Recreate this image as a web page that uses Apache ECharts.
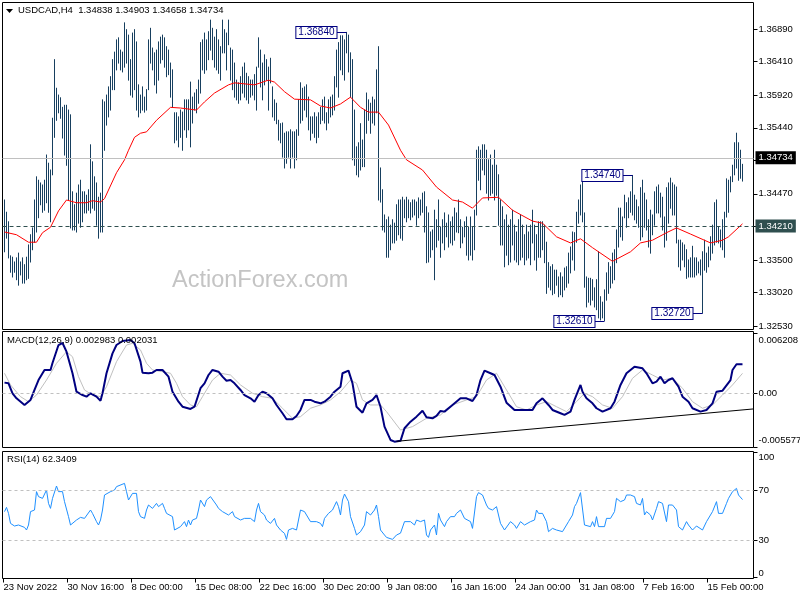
<!DOCTYPE html>
<html><head><meta charset="utf-8">
<script src="https://cdn.jsdelivr.net/npm/echarts@6/dist/echarts.min.js"></script>
<style>html,body{margin:0;padding:0;background:#fff}#c{width:800px;height:600px}</style>
</head><body><div id="c"></div>
<script>
// ---- DATA ----
const highs = [
1.3438,1.3420,1.3406,1.3356,1.3354,1.3347,1.3353,1.3360,1.3347,1.3353,
1.3343,1.3354,1.3372,1.3387,1.3397,1.3438,1.3472,1.3467,1.3463,1.3460,
1.3467,1.3504,1.3492,1.3482,1.3558,1.3644,1.3602,1.3592,1.3588,1.3574,
1.3577,1.3577,1.3570,1.3563,1.3450,1.3431,1.3448,1.3460,1.3467,1.3450,
1.3450,1.3445,1.3453,1.3519,1.3494,1.3472,1.3463,1.3442,1.3448,1.3585,
1.3582,1.3592,1.3604,1.3619,1.3644,1.3655,1.3673,1.3676,1.3658,1.3655,
1.3698,1.3688,1.3680,1.3644,1.3683,1.3688,1.3670,1.3607,1.3592,1.3604,
1.3589,1.3600,1.3673,1.3690,1.3661,1.3654,1.3658,1.3670,1.3677,1.3680,
1.3676,1.3663,1.3658,1.3639,1.3629,1.3566,1.3566,1.3560,1.3570,1.3567,
1.3585,1.3585,1.3585,1.3611,1.3589,1.3595,1.3600,1.3614,1.3669,1.3673,
1.3683,1.3673,1.3685,1.3702,1.3690,1.3677,1.3688,1.3673,1.3663,1.3702,
1.3688,1.3683,1.3702,1.3661,1.3658,1.3639,1.3614,1.3610,1.3619,1.3633,
1.3639,1.3624,1.3619,1.3614,1.3614,1.3622,1.3633,1.3676,1.3658,1.3639,
1.3651,1.3644,1.3633,1.3646,1.3604,1.3585,1.3580,1.3555,1.3550,1.3551,
1.3536,1.3538,1.3538,1.3541,1.3538,1.3538,1.3541,1.3585,1.3610,1.3602,
1.3604,1.3607,1.3589,1.3560,1.3560,1.3566,1.3560,1.3566,1.3574,1.3585,
1.3589,1.3566,1.3585,1.3589,1.3592,1.3619,1.3658,1.3669,1.3679,1.3679,
1.3673,1.3684,1.3680,1.3654,1.3644,1.3570,1.3516,1.3522,1.3550,1.3526,
1.3570,1.3595,1.3585,1.3580,1.3589,1.3585,1.3629,1.3663,1.3485,1.3453,
1.3416,1.3409,1.3413,1.3401,1.3409,1.3404,1.3431,1.3438,1.3438,1.3442,
1.3438,1.3442,1.3438,1.3434,1.3438,1.3438,1.3435,1.3441,1.3438,1.3448,
1.3450,1.3428,1.3419,1.3391,1.3394,1.3423,1.3409,1.3438,1.3398,1.3409,
1.3419,1.3404,1.3416,1.3406,1.3413,1.3426,1.3419,1.3438,1.3409,1.3398,
1.3406,1.3413,1.3398,1.3413,1.3398,1.3423,1.3511,1.3516,1.3511,1.3519,
1.3519,1.3511,1.3497,1.3504,1.3489,1.3511,1.3489,1.3475,1.3438,1.3428,
1.3409,1.3416,1.3401,1.3409,1.3423,1.3401,1.3391,1.3409,1.3416,1.3401,
1.3387,1.3401,1.3391,1.3401,1.3423,1.3401,1.3387,1.3406,1.3406,1.3406,
1.3401,1.3376,1.3346,1.3340,1.3343,1.3335,1.3335,1.3325,1.3331,1.3325,
1.3338,1.3340,1.3360,1.3369,1.3391,1.3390,1.3420,1.3438,1.3460,1.3470,
1.3419,1.3325,1.3323,1.3323,1.3321,1.3309,1.3321,1.3362,1.3296,1.3288,
1.3306,1.3331,1.3346,1.3340,1.3360,1.3365,1.3394,1.3426,1.3426,1.3413,
1.3445,1.3434,1.3441,1.3450,1.3474,1.3445,1.3438,1.3428,1.3456,1.3467,
1.3448,1.3438,1.3409,1.3423,1.3416,1.3450,1.3457,1.3460,1.3448,1.3442,
1.3413,1.3456,1.3463,1.3470,1.3463,1.3460,1.3457,1.3379,1.3379,1.3375,
1.3372,1.3365,1.3350,1.3353,1.3370,1.3353,1.3353,1.3347,1.3350,1.3362,
1.3379,1.3360,1.3369,1.3384,1.3401,1.3434,1.3438,1.3398,1.3394,1.3409,
1.3420,1.3469,1.3467,1.3472,1.3489,1.3522,1.3536,1.3522,1.3511,1.34903
];
const lows = [
1.3362,1.3382,1.3353,1.3332,1.3325,1.3332,1.3321,1.3313,1.3328,1.3316,
1.3316,1.3321,1.3323,1.3347,1.3365,1.3376,1.3391,1.3412,1.3431,1.3420,
1.3423,1.3434,1.3420,1.3406,1.3475,1.3530,1.3555,1.3566,1.3558,1.3529,
1.3504,1.3489,1.3438,1.3397,1.3394,1.3394,1.3391,1.3404,1.3398,1.3406,
1.3419,1.3419,1.3423,1.3419,1.3426,1.3423,1.3401,1.3382,1.3391,1.3391,
1.3511,1.3548,1.3560,1.3570,1.3600,1.3600,1.3629,1.3639,1.3629,1.3626,
1.3633,1.3639,1.3614,1.3592,1.3589,1.3600,1.3570,1.3560,1.3566,1.3570,
1.3567,1.3570,1.3600,1.3639,1.3629,1.3607,1.3595,1.3614,1.3639,1.3644,
1.3633,1.3619,1.3622,1.3589,1.3574,1.3522,1.3526,1.3516,1.3530,1.3511,
1.3541,1.3530,1.3541,1.3516,1.3551,1.3570,1.3566,1.3580,1.3595,1.3629,
1.3624,1.3629,1.3644,1.3658,1.3644,1.3633,1.3629,1.3624,1.3614,1.3654,
1.3654,1.3629,1.3666,1.3614,1.3600,1.3589,1.3585,1.3580,1.3585,1.3595,
1.3589,1.3585,1.3580,1.3589,1.3592,1.3585,1.3570,1.3633,1.3604,1.3585,
1.3607,1.3614,1.3570,1.3610,1.3560,1.3555,1.3550,1.3526,1.3522,1.3501,
1.3485,1.3492,1.3501,1.3485,1.3501,1.3485,1.3497,1.3533,1.3551,1.3555,
1.3570,1.3560,1.3541,1.3526,1.3536,1.3530,1.3522,1.3530,1.3550,1.3555,
1.3551,1.3541,1.3551,1.3560,1.3563,1.3570,1.3604,1.3589,1.3629,1.3622,
1.3614,1.3654,1.3626,1.3589,1.3497,1.3489,1.3475,1.3472,1.3482,1.3487,
1.3487,1.3536,1.3555,1.3536,1.3551,1.3548,1.3566,1.3438,1.3435,1.3394,
1.3391,1.3354,1.3354,1.3365,1.3375,1.3375,1.3379,1.3387,1.3382,1.3379,
1.3412,1.3406,1.3412,1.3409,1.3413,1.3416,1.3401,1.3412,1.3416,1.3420,
1.3391,1.3346,1.3347,1.3354,1.3365,1.3321,1.3369,1.3379,1.3354,1.3375,
1.3365,1.3384,1.3369,1.3375,1.3372,1.3379,1.3391,1.3390,1.3368,1.3375,
1.3384,1.3357,1.3350,1.3357,1.3350,1.3365,1.3416,1.3467,1.3453,1.3482,
1.3475,1.3448,1.3438,1.3445,1.3448,1.3438,1.3445,1.3401,1.3372,1.3372,
1.3340,1.3357,1.3343,1.3347,1.3372,1.3350,1.3347,1.3343,1.3350,1.3354,
1.3343,1.3350,1.3353,1.3343,1.3375,1.3350,1.3335,1.3354,1.3354,1.3365,
1.3346,1.3301,1.3310,1.3306,1.3299,1.3301,1.3313,1.3296,1.3299,1.3296,
1.3306,1.3310,1.3316,1.3331,1.3350,1.3335,1.3376,1.3404,1.3416,1.3406,
1.3310,1.3281,1.3288,1.3284,1.3291,1.3281,1.3277,1.3265,1.3262,1.3265,
1.3261,1.3291,1.3301,1.3309,1.3316,1.3321,1.3346,1.3369,1.3384,1.3379,
1.3412,1.3398,1.3412,1.3420,1.3416,1.3409,1.3404,1.3398,1.3379,1.3384,
1.3398,1.3394,1.3369,1.3360,1.3387,1.3401,1.3419,1.3419,1.3413,1.3394,
1.3369,1.3379,1.3404,1.3426,1.3416,1.3416,1.3375,1.3340,1.3335,1.3350,
1.3340,1.3323,1.3325,1.3325,1.3325,1.3325,1.3328,1.3331,1.3328,1.3272,
1.3335,1.3332,1.3340,1.3350,1.3360,1.3372,1.3376,1.3375,1.3369,1.3365,
1.3354,1.3413,1.3420,1.3450,1.3465,1.3475,1.3485,1.3467,1.3470,1.34658
];
// moving average (bar index, price)
const maPts = [[0,1.3391],[6,1.3387],[12,1.3376],[16,1.3376],[19,1.3390],[23,1.3398],[27,1.3422],[31,1.3438],[36,1.3434],[41,1.3434],[44,1.3437],[48,1.3435],[50,1.3440],[56,1.3478],[60,1.3497],[62,1.3511],[65,1.3530],[68,1.3536],[71,1.3538],[76,1.3555],[83,1.3574],[88,1.3573],[96,1.3570],[100,1.3582],[105,1.3595],[112,1.3607],[115,1.3610],[125,1.3607],[132,1.3614],[135,1.3611],[140,1.3597],[145,1.3586],[153,1.3585],[158,1.3576],[163,1.3573],[168,1.3579],[173,1.3589],[178,1.3574],[182,1.3567],[187,1.3567],[192,1.3548],[198,1.3511],[201,1.3497],[209,1.3482],[216,1.3457],[224,1.3438],[229,1.3435],[234,1.3426],[239,1.3441],[247,1.3442],[254,1.3423],[264,1.3407],[269,1.3404],[276,1.3384],[283,1.3375],[288,1.3381],[294,1.3368],[304,1.3348],[313,1.3362],[318,1.3375],[324,1.3379],[331,1.3390],[336,1.3397],[343,1.3388],[353,1.3375],[359,1.3379],[362,1.3384],[369,1.3403]];
const macdMain = [[0,0.00107],[2,0.00100],[4,-0.00003],[6,-0.00055],[10,-0.00124],[13,-0.00072],[15,0.00031],[17,0.00134],[20,0.00238],[23,0.00238],[24,0.00310],[27,0.00496],[29,0.00517],[31,0.00427],[34,0.00204],[36,0.00013],[39,-0.00021],[41,-0.00038],[43,-0.00003],[44,0.00013],[46,-0.00038],[48,-0.00080],[49,-0.00003],[51,0.00204],[54,0.00410],[56,0.00496],[59,0.00538],[63,0.00548],[65,0.00514],[68,0.00324],[69,0.00210],[72,0.00204],[74,0.00210],[76,0.00238],[79,0.00238],[82,0.00169],[84,0.00013],[87,-0.00090],[89,-0.00142],[93,-0.00165],[95,-0.00142],[98,0.00049],[100,0.00100],[102,0.00186],[104,0.00238],[107,0.00220],[109,0.00169],[111,0.00127],[113,0.00134],[115,0.00100],[118,0.00031],[120,-0.00021],[123,-0.00055],[125,-0.00090],[127,-0.00021],[129,0.00013],[131,-0.00003],[134,-0.00055],[136,-0.00124],[139,-0.00210],[141,-0.00272],[144,-0.00272],[146,-0.00238],[148,-0.00176],[150,-0.00072],[153,-0.00072],[155,-0.00090],[158,-0.00107],[160,-0.00090],[163,-0.00038],[165,0.00013],[168,0.00065],[169,0.00204],[172,0.00231],[174,0.00100],[176,-0.00142],[179,-0.00204],[181,-0.00107],[184,-0.00072],[186,-0.00021],[188,-0.00142],[190,-0.00348],[193,-0.00486],[195,-0.00504],[198,-0.00495],[200,-0.00365],[203,-0.00297],[206,-0.00245],[209,-0.00183],[211,-0.00251],[214,-0.00262],[216,-0.00238],[218,-0.00186],[220,-0.00193],[224,-0.00124],[228,-0.00055],[231,-0.00055],[234,-0.00083],[236,-0.00021],[238,0.00134],[240,0.00231],[243,0.00204],[245,0.00186],[248,0.00065],[251,-0.00100],[255,-0.00176],[259,-0.00176],[264,-0.00176],[266,-0.00107],[269,-0.00055],[272,-0.00124],[274,-0.00176],[278,-0.00210],[280,-0.00227],[283,-0.00193],[285,-0.00072],[288,0.00083],[289,0.00013],[291,-0.00055],[294,-0.00107],[296,-0.00158],[299,-0.00193],[303,-0.00158],[305,-0.00090],[308,0.00083],[311,0.00204],[315,0.00272],[319,0.00255],[321,0.00204],[324,0.00100],[326,0.00117],[328,0.00169],[330,0.00100],[332,0.00134],[334,0.00152],[337,0.00065],[339,-0.00038],[342,-0.00090],[344,-0.00158],[348,-0.00193],[351,-0.00176],[354,-0.00107],[356,0.00013],[359,0.00024],[360,0.00031],[363,0.00134],[364,0.00238],[366,0.00297],[369,0.002983]];
const macdSignal = [[0,0.00204],[3,0.00083],[8,-0.00038],[12,-0.00090],[16,-0.00021],[21,0.00134],[26,0.00307],[31,0.00427],[34,0.00375],[37,0.00169],[40,0.00031],[44,-0.00021],[48,-0.00038],[51,0.00065],[56,0.00324],[61,0.00496],[64,0.00514],[68,0.00445],[71,0.00307],[74,0.00238],[79,0.00220],[83,0.00204],[86,0.00100],[89,-0.00038],[93,-0.00124],[96,-0.00142],[99,-0.00038],[104,0.00134],[108,0.00204],[113,0.00186],[118,0.00083],[124,-0.00003],[129,-0.00038],[134,-0.00055],[139,-0.00158],[144,-0.00262],[148,-0.00245],[153,-0.00158],[158,-0.00124],[163,-0.00072],[168,0.00013],[173,0.00134],[176,0.00100],[179,-0.00072],[183,-0.00124],[188,-0.00124],[191,-0.00193],[198,-0.00383],[204,-0.00348],[211,-0.00262],[218,-0.00227],[224,-0.00124],[231,-0.00072],[236,-0.00038],[241,0.00134],[246,0.00204],[251,0.00031],[256,-0.00142],[261,-0.00176],[266,-0.00124],[271,-0.00090],[276,-0.00142],[281,-0.00193],[286,-0.00090],[290,-0.00003],[294,-0.00038],[299,-0.00124],[304,-0.00158],[309,-0.00038],[314,0.00152],[319,0.00238],[324,0.00186],[329,0.00134],[334,0.00152],[339,0.00049],[344,-0.00090],[349,-0.00158],[354,-0.00124],[359,-0.00021],[364,0.00083],[369,0.002031]];
const rsiPts = [[0,52.7],[1,56.1],[2,51.3],[3,43.3],[5,41.2],[7,42],[10,40.1],[11,38],[12,42],[13,52.7],[15,54],[16,68.7],[17,64.7],[19,63.3],[20,64.7],[21,70],[22,59.3],[23,55.3],[24,63.3],[26,73.2],[27,68.7],[29,68.7],[30,60.7],[31,59.3],[32,48.7],[33,42],[34,42.8],[36,46],[37,44.7],[38,48.1],[40,47.3],[41,47.3],[43,54],[44,51.3],[46,44.7],[47,42],[48,46],[49,54],[50,66],[51,67.3],[53,68.7],[55,70],[56,72.7],[57,71.3],[60,75.3],[61,68.7],[62,62],[63,63.3],[64,67.3],[66,67.3],[67,52.7],[68,48.7],[69,50],[70,47.3],[71,54],[72,58],[74,55.3],[76,59.3],[77,56.7],[79,59.3],[80,55.3],[81,51.3],[84,48.7],[85,38],[86,38],[88,40.7],[90,44.7],[91,40.7],[92,46],[93,42],[94,46],[96,47.3],[97,54],[98,62],[100,56.7],[101,62],[103,64.7],[104,66],[106,58],[107,55.3],[109,52.7],[110,54],[112,50],[114,52.7],[115,48.7],[116,47.3],[118,46],[120,47.3],[121,46],[123,47.3],[125,44.7],[126,54],[127,59.3],[128,52.7],[130,50],[131,46],[133,43.3],[135,47.3],[136,42],[138,38],[140,35.3],[141,30.5],[142,38],[144,39.3],[146,38],[147,46],[148,54],[149,55.3],[150,52.7],[151,51.3],[153,44.7],[156,44.7],[158,43.3],[159,40.7],[160,47.3],[161,46],[162,51.3],[164,54],[166,60.7],[167,56.7],[168,50],[169,62],[170,66.8],[171,66.5],[172,60.7],[173,48.7],[175,39.3],[176,34],[178,36.7],[180,42],[181,52.7],[183,50],[185,54],[186,58],[187,48.7],[188,38],[190,34],[191,32.1],[194,30.5],[196,34],[198,35.5],[200,44.7],[201,46],[203,44.7],[205,42],[206,46],[208,44.7],[210,46],[211,34],[212,32.1],[213,38],[215,42],[216,34],[217,51.3],[218,46],[220,40.7],[221,44.7],[223,48.7],[225,48.7],[226,51.3],[228,54],[230,47.3],[231,46],[233,44.7],[234,39.3],[236,64.7],[237,67.9],[239,66],[241,58],[242,55.3],[244,54],[246,56.7],[248,43.3],[250,38],[251,36.7],[253,44.7],[255,42],[256,39.3],[258,44.7],[260,42],[261,42.8],[263,44.7],[265,46],[266,54],[267,51.3],[269,51.3],[271,44.7],[272,36.7],[274,39.3],[276,38],[277,39.3],[279,36.7],[281,42],[282,44.7],[284,50],[285,56.7],[286,59.3],[288,67.9],[290,42],[291,40.7],[293,40.7],[294,44.7],[295,40.7],[296,48.7],[297,40.7],[298,39.3],[300,40.7],[301,47.3],[303,47.3],[305,52.7],[306,63.3],[308,60.7],[310,62],[311,66],[313,66],[315,64.7],[316,59.3],[318,58],[319,63.3],[320,50],[321,52.7],[323,50],[324,46],[326,55.3],[327,60.7],[329,59.3],[331,44.7],[332,58],[334,58],[336,54],[337,40.7],[339,38],[341,44.7],[342,42],[344,38],[346,41.2],[347,40.7],[349,38],[351,44.7],[352,46],[354,52.7],[356,60.7],[357,51.3],[359,51.3],[361,59.3],[362,63.3],[364,68.7],[366,71.3],[367,66],[369,62.34]];
const macdTrend = [[196,-0.00500],[374.5,-0.00165]];
const lastBar = {open:1.34838, high:1.34903, low:1.34658, close:1.34734};
const levelLine = 1.34210;
const annotations = [{bar:171,type:'high'},{bar:314,type:'high'},{bar:300,type:'low'},{bar:349,type:'low'}];
const priceTicks = [1.3689,1.3641,1.3592,1.3544,1.3496,1.3447,1.3399,1.3350,1.3302,1.3253];
const macdTicks = [0.006208, 0, -0.005577];
const macdTickLabels = ['0.006208','0.00','-0.005577'];
const macdLast = ['0.002983','0.002031'];
const rsiTicks = [100,70,30,0];
const rsiLevels = [70,30];
const rsiLast = '62.3409';
const timeTickBars = [-0.5,31.5,63.5,95.5,127.5,159.5,191.5,223.5,255.5,287.5,319.5,351.5];
const timeLabels = ['23 Nov 2022','30 Nov 16:00','8 Dec 00:00','15 Dec 08:00','22 Dec 16:00','30 Dec 20:00','9 Jan 08:00','16 Jan 16:00','24 Jan 00:00','31 Jan 08:00','7 Feb 16:00','15 Feb 00:00'];

// ---- CHART ----
const FONT = 'Liberation Sans';
const FS = 9.5;
const BAR_COLOR = '#173f5f';
const chart = echarts.init(document.getElementById('c'), null, {renderer:'canvas', width:800, height:600});
const gridBase = {show:true, borderColor:'#000', borderWidth:1, backgroundColor:'transparent', containLabel:false, outerBoundsMode:'none'};
const XMIN = -1, XMAX = 374.5;
function findIdx(arr, v){ return arr.findIndex(a => Math.abs(a - v) < 1e-7); }
const hiddenX = gi => ({type:'value', gridIndex:gi, min:XMIN, max:XMAX, show:false, axisLine:{show:false, onZero:false}});
const rightY = (gi, min, max, ticks, fmt, lh) => ({
  type:'value', gridIndex:gi, position:'right', min:min, max:max,
  axisLine:{show:false, onZero:false}, splitLine:{show:false},
  axisTick:{show:true, customValues:ticks, length:4, inside:false, lineStyle:{color:'#000', width:1}},
  axisLabel:{show:true, customValues:ticks, formatter:fmt, margin:5, color:'#000', fontFamily:FONT, fontSize:FS, lineHeight:lh, hideOverlap:false, showMinLabel:true, showMaxLabel:true}
});
const edgeFmt = (ticks, labels) => v => {
  const k = findIdx(ticks, v); if (k < 0) return '';
  const t = labels[k];
  if (k === 0) return '\n' + t;
  if (k === ticks.length - 1) return t + '\n';
  return t;
};
const levelLabel = (bg) => ({show:true, position:'end', distance:2, backgroundColor:bg, color:'#fff', padding:[2,3,1,3], fontFamily:FONT, fontSize:FS});

const option = {
  backgroundColor:'#fff',
  animation:false,
  grid:[
    Object.assign({left:2.5, top:2.5, width:751, height:327}, gridBase),
    Object.assign({left:2.5, top:331.5, width:751, height:116}, gridBase),
    Object.assign({left:2.5, top:451.5, width:751, height:127}, gridBase)
  ],
  xAxis:[
    hiddenX(0), hiddenX(1),
    {type:'value', gridIndex:2, min:XMIN, max:XMAX, position:'bottom',
     axisLine:{show:false, onZero:false}, splitLine:{show:false},
     axisTick:{show:true, customValues:timeTickBars, length:4, inside:false, lineStyle:{color:'#000'}},
     axisLabel:{show:true, customValues:timeTickBars, align:'left', margin:4, color:'#000', fontFamily:FONT, fontSize:FS, hideOverlap:false, showMinLabel:true, showMaxLabel:true,
       formatter: v => { const k = findIdx(timeTickBars, v); return k < 0 ? '' : timeLabels[k]; }}}
  ],
  yAxis:[
    rightY(0, 1.32479, 1.37279, priceTicks, v => v.toFixed(5), 12),
    rightY(1, -0.00564, 0.00636, macdTicks, edgeFmt(macdTicks, macdTickLabels), 14),
    rightY(2, -0.8, 100.8, rsiTicks, edgeFmt(rsiTicks, rsiTicks.map(String)), 9)
  ],
  graphic:[
    {type:'text', z:0, left:172, top:269, style:{text:'ActionForex.com', font:'23.5px "Liberation Sans"', fill:'#c4c4c4'}},
    {type:'polygon', z:10, shape:{points:[[6,9],[13,9],[9.5,13]]}, style:{fill:'#000'}},
    {type:'text', z:10, left:18, top:5, style:{text:'USDCAD,H4  ' + [lastBar.open,lastBar.high,lastBar.low,lastBar.close].map(v=>v.toFixed(5)).join(' '), font:FS+'px "Liberation Sans"', fill:'#000'}},
    {type:'text', z:10, left:7, top:335, style:{text:'MACD(12,26,9) ' + macdLast.join(' '), font:FS+'px "Liberation Sans"', fill:'#000'}},
    {type:'text', z:10, left:7, top:454, style:{text:'RSI(14) ' + rsiLast, font:FS+'px "Liberation Sans"', fill:'#000'}}
  ],
  series:[
    {type:'custom', name:'bars', xAxisIndex:0, yAxisIndex:0, silent:true, clip:true,
     data: highs.map((h,i) => [i, h, lows[i]]),
     encode:{x:0, y:[1,2]},
     renderItem:(params, api) => {
       const i = api.value(0);
       const a = api.coord([i, api.value(1)]);
       const b = api.coord([i, api.value(2)]);
       return {type:'line', shape:{x1:a[0], y1:a[1]-0.5, x2:b[0], y2:b[1]+0.5}, style:{stroke:BAR_COLOR, lineWidth:1}};
     }},
    {type:'line', name:'MA', xAxisIndex:0, yAxisIndex:0, data:maPts, showSymbol:false, symbol:'none', silent:true,
     lineStyle:{color:'#ff0000', width:1}, z:3,
     markLine:{silent:true, symbol:['none','none'], animation:false,
       data:[
         {yAxis:lastBar.close, lineStyle:{color:'#c0c0c0', type:'solid', width:1}, label:Object.assign(levelLabel('#000'), {formatter:lastBar.close.toFixed(5)})},
         {yAxis:levelLine, lineStyle:{color:'#2f4f4f', type:[4,3], width:1}, label:Object.assign(levelLabel('#2f4f4f'), {formatter:levelLine.toFixed(5)})}
       ]}},
    {type:'custom', name:'swing', xAxisIndex:0, yAxisIndex:0, silent:true, z:5,
     data: annotations.map(a => [a.bar, a.type === 'high' ? highs[a.bar] : lows[a.bar]]),
     encode:{x:0, y:1},
     renderItem:(params, api) => {
       const p = api.coord([api.value(0), api.value(1)]);
       const y = Math.round(p[1]) + 0.5;
       const xr = Math.round(p[0] - 11) + 0.5;
       return {type:'group', children:[
         {type:'line', shape:{x1:xr, y1:y, x2:p[0], y2:y}, style:{stroke:'#000080', lineWidth:1}},
         {type:'text', x:xr, y:y, style:{text:api.value(1).toFixed(5), align:'right', verticalAlign:'middle', fill:'#000080', font:'10px "Liberation Sans"', backgroundColor:'#fff', borderColor:'#000080', borderWidth:1, padding:[1,2,0,2]}}
       ]};
     }},
    {type:'line', name:'Signal', xAxisIndex:1, yAxisIndex:1, data:macdSignal, showSymbol:false, symbol:'none', silent:true,
     lineStyle:{color:'#c0c0c0', width:1},
     markLine:{silent:true, symbol:['none','none'], label:{show:false}, data:[{yAxis:0, lineStyle:{color:'#c0c0c0', type:[3,3], width:1}}]}},
    {type:'line', name:'MACD', xAxisIndex:1, yAxisIndex:1, data:macdMain, showSymbol:false, symbol:'none', silent:true,
     lineStyle:{color:'#000080', width:2}},
    {type:'line', name:'Trend', xAxisIndex:1, yAxisIndex:1, data:macdTrend, showSymbol:false, symbol:'none', silent:true,
     lineStyle:{color:'#000', width:1}},
    {type:'line', name:'RSI', xAxisIndex:2, yAxisIndex:2, data:rsiPts, showSymbol:false, symbol:'none', silent:true,
     lineStyle:{color:'#1e90ff', width:1},
     markLine:{silent:true, symbol:['none','none'], label:{show:false}, data:rsiLevels.map(v => ({yAxis:v, lineStyle:{color:'#c0c0c0', type:[3,3], width:1}}))}}
  ]
};
chart.setOption(option);
</script>
</body></html>
